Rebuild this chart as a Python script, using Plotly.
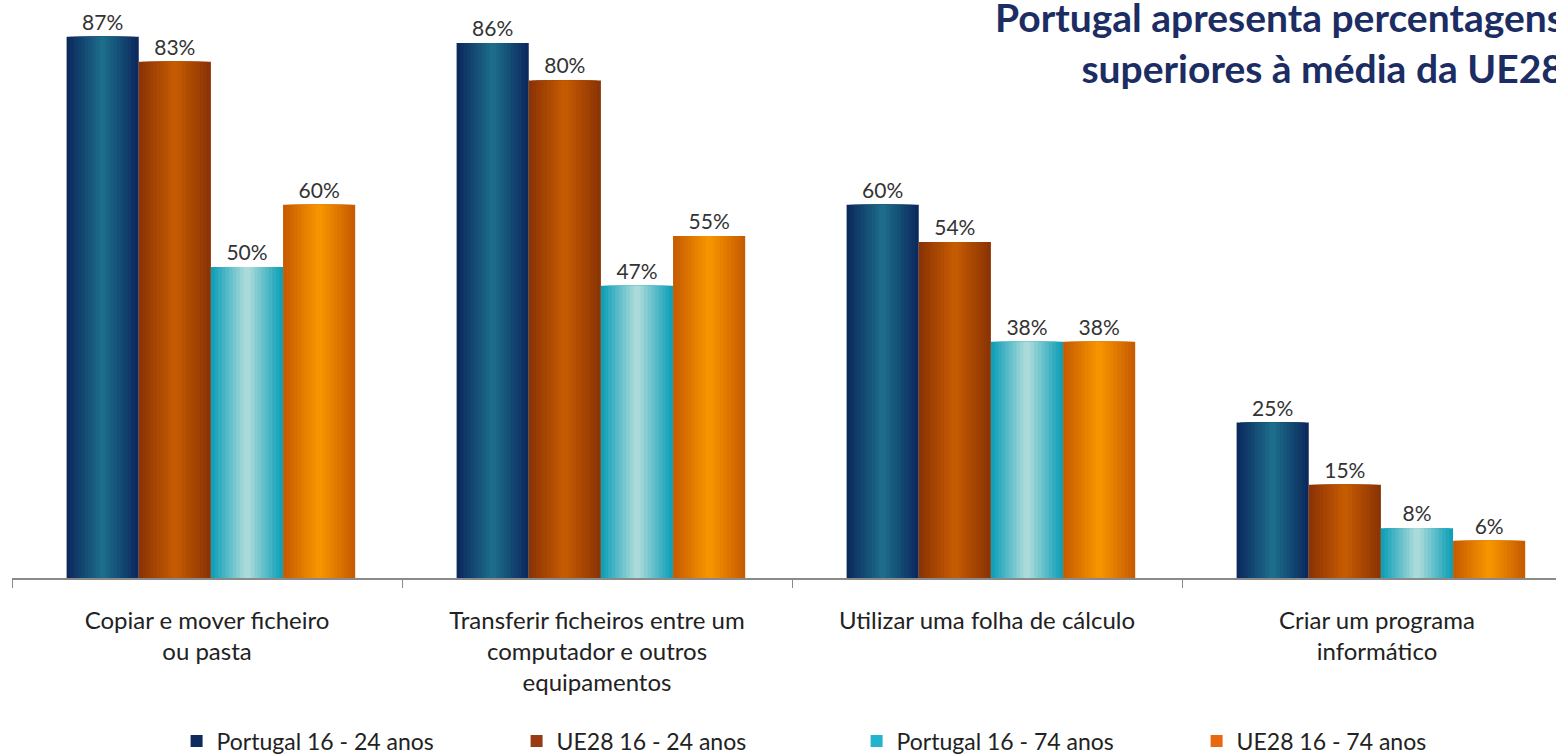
import plotly.graph_objects as go

categories = ["Copiar e mover ficheiro<br>ou pasta",
              "Transferir ficheiros entre um<br>computador e outros<br>equipamentos",
              "Utilizar uma folha de cálculo",
              "Criar um programa<br>informático"]
series_names = ["Portugal 16 - 24 anos", "UE28 16 - 24 anos",
                "Portugal 16 - 74 anos", "UE28 16 - 74 anos"]
pt_16_24 = [87, 86, 60, 25]
ue_16_24 = [83, 80, 54, 15]
pt_16_74 = [50, 47, 38, 8]
ue_16_74 = [60, 55, 38, 6]
title_text = "Portugal apresenta percentagens<br>superiores à média da UE28"

series_values = [pt_16_24, ue_16_24, pt_16_74, ue_16_74]
edge_colors = [(12, 42, 94), (140, 52, 4), (16, 160, 184), (200, 92, 0)]
center_colors = [(28, 108, 138), (196, 90, 2), (170, 218, 218), (246, 148, 0)]
legend_colors = ["#102a5e", "#9a3a12", "#22b4cc", "#e86a10"]

bar_w = 0.185
group_start = -0.36
N = 10

fig = go.Figure()
for i, (name, vals) in enumerate(zip(series_names, series_values)):
    base_off = group_start + i * bar_w
    for k in range(N):
        t = k / (N - 1)
        c = tuple(int(round(edge_colors[i][j] + (center_colors[i][j] - edge_colors[i][j]) * t)) for j in range(3))
        w = bar_w * (1 - k / N)
        off = base_off + (bar_w - w) / 2
        fig.add_trace(go.Bar(
            x=categories, y=vals,
            width=w, offset=off,
            marker=dict(color="rgb(%d,%d,%d)" % c, line=dict(width=0)),
            name=name,
            showlegend=False,
            text=[f"{v}%" for v in vals] if k == 0 else None,
            textposition="outside" if k == 0 else "none",
            textfont=dict(family="Lato", size=21, color="#333333"),
            cliponaxis=False,
            hoverinfo="skip" if k > 0 else None,
        ))
    # legend entry
    fig.add_trace(go.Bar(
        x=[categories[0]], y=[None], name=name,
        marker=dict(color=legend_colors[i], line=dict(width=0)),
        showlegend=True,
    ))

fig.add_annotation(
    text=title_text, xref="paper", yref="paper",
    x=(1566 - 12) / 1544, y=1.0, xanchor="right", yanchor="top",
    yshift=8, align="right", showarrow=False,
    font=dict(family="Lato", size=39, color="#1b2d63", weight="bold"),
)

fig.update_layout(
    width=1556, height=754,
    barmode="overlay",
    paper_bgcolor="white", plot_bgcolor="white",
    margin=dict(l=12, r=0, t=0, b=176, autoexpand=False),
    showlegend=True,
    legend=dict(orientation="h", x=0.1066, xanchor="left", y=-0.282, yanchor="middle",
                entrywidth=295, entrywidthmode="pixels",
                font=dict(family="Lato", size=23, color="#222222"),
                traceorder="normal"),
    font=dict(family="Lato", size=19, color="#222222"),
)
fig.update_xaxes(
    type="category",
    range=[-0.5, 3.5 - 16 / 390],
    showline=True, linecolor="#8a8a8a", linewidth=2,
    ticks="outside", tickson="boundaries", ticklen=8, tickcolor="#8a8a8a",
    tickfont=dict(family="Lato", size=24, color="#222222"),
    ticklabelstandoff=20,
    showgrid=False, zeroline=False, automargin=False,
)
fig.update_yaxes(range=[0, 578 / 6.22], visible=False, showgrid=False, zeroline=False)

fig.write_html("out.html",
               config={"displayModeBar": False},
               post_script="document.body.style.margin='0';document.body.style.overflow='hidden';")
